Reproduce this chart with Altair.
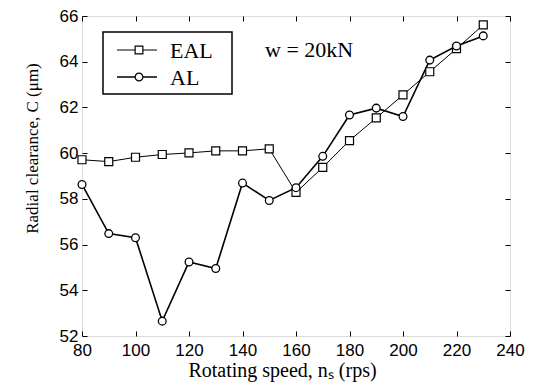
import altair as alt
import pandas as pd

speed = [80, 90, 100, 110, 120, 130, 140, 150, 160, 170, 180, 190, 200, 210, 220, 230]
eal = [59.71, 59.63, 59.82, 59.94, 60.01, 60.10, 60.10, 60.19, 58.28, 59.38,
       60.55, 61.54, 62.55, 63.56, 64.57, 65.61]
al = [58.63, 56.48, 56.30, 52.65, 55.24, 54.95, 58.69, 57.93, 58.49, 59.86,
      61.67, 61.97, 61.60, 64.07, 64.69, 65.13]
series_names = ["EAL", "AL"]
x_ticks = [80, 100, 120, 140, 160, 180, 200, 220, 240]
y_ticks = [52, 54, 56, 58, 60, 62, 64, 66]
annotation = "w = 20kN"
x_title = "Rotating speed, n\u209b (rps)"
y_title = "Radial clearance,  C (\u03bcm)"

df = pd.DataFrame({"speed": speed, "EAL": eal, "AL": al})

SERIF = "Liberation Serif"
SANS = "Liberation Sans"

xs = alt.Scale(domain=[80, 240], nice=False)
ys = alt.Scale(domain=[52, 66], nice=False)

x_axis = alt.Axis(values=x_ticks, offset=-5, tickSize=5, domain=False, grid=False,
                  labelFlush=False, labelOverlap=False,
                  labelPadding=6, labelFont=SANS, labelFontSize=17, labelColor="black",
                  tickColor="black", title=x_title, titleFont=SERIF, titleFontSize=20,
                  titleFontWeight="normal", titleColor="black", titleX=200, titleY=45,
                  titleBaseline="alphabetic")
y_axis = alt.Axis(values=y_ticks, offset=-5, tickSize=5, domain=False, grid=False,
                  labelFlush=False, labelOverlap=False,
                  labelPadding=4, labelFont=SANS, labelFontSize=17, labelColor="black",
                  tickColor="black", title=y_title, titleFont=SERIF, titleFontSize=17,
                  titleFontWeight="normal", titleColor="black", titleX=-55, titleY=132,
                  titleAngle=-90, titleBaseline="middle")

base = alt.Chart(df)

eal_line = base.mark_line(color="black", strokeWidth=1).encode(
    x=alt.X("speed:Q", scale=xs, axis=x_axis),
    y=alt.Y("EAL:Q", scale=ys, axis=y_axis),
)
eal_pts = base.mark_point(shape="square", size=64, filled=True, fill="white",
                          stroke="black", strokeWidth=1.2, opacity=1).encode(
    x=alt.X("speed:Q", scale=xs, axis=None),
    y=alt.Y("EAL:Q", scale=ys, axis=None),
)
al_line = base.mark_line(color="black", strokeWidth=1.6).encode(
    x=alt.X("speed:Q", scale=xs, axis=None),
    y=alt.Y("AL:Q", scale=ys, axis=None),
)
al_pts = base.mark_point(shape="circle", size=60, filled=True, fill="white",
                         stroke="black", strokeWidth=1.3, opacity=1).encode(
    x=alt.X("speed:Q", scale=xs, axis=None),
    y=alt.Y("AL:Q", scale=ys, axis=None),
)

mirror = base.mark_point(opacity=0).encode(
    x=alt.X("speed:Q", scale=xs,
            axis=alt.Axis(orient="top", values=x_ticks, labels=False, title=None,
                          offset=-5, tickSize=5, domain=False, grid=False, tickColor="black")),
    y=alt.Y("EAL:Q", scale=ys,
            axis=alt.Axis(orient="right", values=y_ticks, labels=False, title=None,
                          offset=-5, tickSize=5, domain=False, grid=False, tickColor="black")),
)

# legend
leg_df = pd.DataFrame({"label": series_names})
leg_box = alt.Chart(leg_df.head(1)).mark_rect(fill="white", stroke="black", strokeWidth=1.5).encode(
    x=alt.value(21), x2=alt.value(150), y=alt.value(16), y2=alt.value(78)
)
leg_layers = [leg_box]
for i, (name, shape, sw) in enumerate(zip(series_names, ["square", "circle"], [1, 1.6])):
    yy = 34 + i * 27
    d = leg_df.iloc[[i]]
    leg_layers.append(alt.Chart(d).mark_rule(color="black", strokeWidth=sw).encode(
        x=alt.value(35), x2=alt.value(75), y=alt.value(yy)))
    leg_layers.append(alt.Chart(d).mark_point(shape=shape, size=60, filled=True, fill="white",
                                              stroke="black", strokeWidth=1.2, opacity=1).encode(
        x=alt.value(57), y=alt.value(yy)))
    leg_layers.append(alt.Chart(d).mark_text(font=SERIF, fontSize=22, align="left",
                                             baseline="middle", color="black").encode(
        x=alt.value(88), y=alt.value(yy + 1), text="label:N"))

note = alt.Chart(pd.DataFrame({"t": [annotation]})).mark_text(
    font=SERIF, fontSize=22, align="left", baseline="middle", color="black").encode(
    x=alt.value(183), y=alt.value(34), text="t:N")

chart = alt.layer(
    eal_line, mirror, al_line, eal_pts, al_pts, *leg_layers, note
).resolve_axis(x="independent", y="independent").properties(
    width=428, height=320,
    autosize=alt.AutoSizeParams(type="none"),
    padding={"left": 74, "top": 8, "right": 19, "bottom": 51},
).configure_view(stroke="black", strokeWidth=1.5).configure(background="white")

chart.save("out.html", embed_options={"renderer": "svg", "actions": False})
